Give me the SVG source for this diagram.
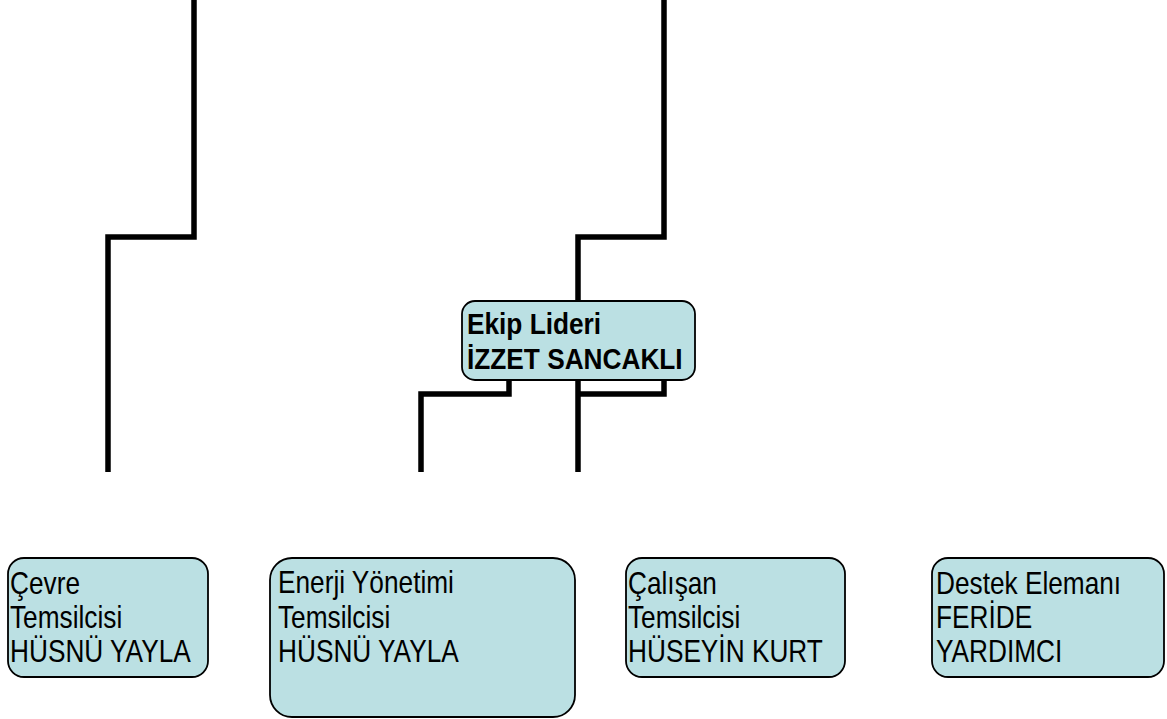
<svg xmlns="http://www.w3.org/2000/svg" width="1167" height="719" viewBox="0 0 1167 719">
<style>
.conn{fill:none;stroke:#000;stroke-width:5.5;stroke-linejoin:miter}
.box{fill:#BBE0E3;stroke:#000;stroke-width:1.8}
.t{font-family:"Liberation Sans",Arial,sans-serif;font-size:32px;fill:#000}
.tb{font-family:"Liberation Sans",Arial,sans-serif;font-size:29px;font-weight:bold;fill:#000}
</style>
<rect width="1167" height="719" fill="#fff"/>
<g id="connectors">
<path class="conn" d="M194,0 V237 H108 V472"/>
<path class="conn" d="M664,0 V237 H578 V472"/>
<path class="conn" d="M509,380 V394 H421 V472"/>
<path class="conn" d="M664,380 V394 H578"/>
</g>
<g id="leader">
<rect class="box" x="462" y="301" width="233" height="79" rx="13"/>
<g transform="translate(467,0) scale(0.905,1)">
<text class="tb" x="0" y="334">Ekip Lideri</text>
<text class="tb" x="0" y="369">İZZET SANCAKLI</text>
</g>
</g>
<g id="cevre">
<rect class="box" x="8" y="558" width="200" height="119" rx="16"/>
<g transform="translate(10,0) scale(0.82,1)">
<text class="t" x="0" y="594">Çevre</text>
<text class="t" x="0" y="628">Temsilcisi</text>
<text class="t" x="0" y="662">HÜSNÜ YAYLA</text>
</g>
</g>
<g id="enerji">
<rect class="box" x="270" y="558" width="305" height="159" rx="22"/>
<g transform="translate(278,0) scale(0.82,1)">
<text class="t" x="0" y="593">Enerji Yönetimi</text>
<text class="t" x="0" y="628">Temsilcisi</text>
<text class="t" x="0" y="662">HÜSNÜ YAYLA</text>
</g>
</g>
<g id="calisan">
<rect class="box" x="626" y="558" width="219" height="119" rx="16"/>
<g transform="translate(628,0) scale(0.82,1)">
<text class="t" x="0" y="594">Çalışan</text>
<text class="t" x="0" y="628">Temsilcisi</text>
<text class="t" x="0" y="662">HÜSEYİN KURT</text>
</g>
</g>
<g id="destek">
<rect class="box" x="932" y="558" width="232" height="119" rx="16"/>
<g transform="translate(936,0) scale(0.82,1)">
<text class="t" x="0" y="594">Destek Elemanı</text>
<text class="t" x="0" y="628">FERİDE</text>
<text class="t" x="0" y="662">YARDIMCI</text>
</g>
</g>
</svg>
